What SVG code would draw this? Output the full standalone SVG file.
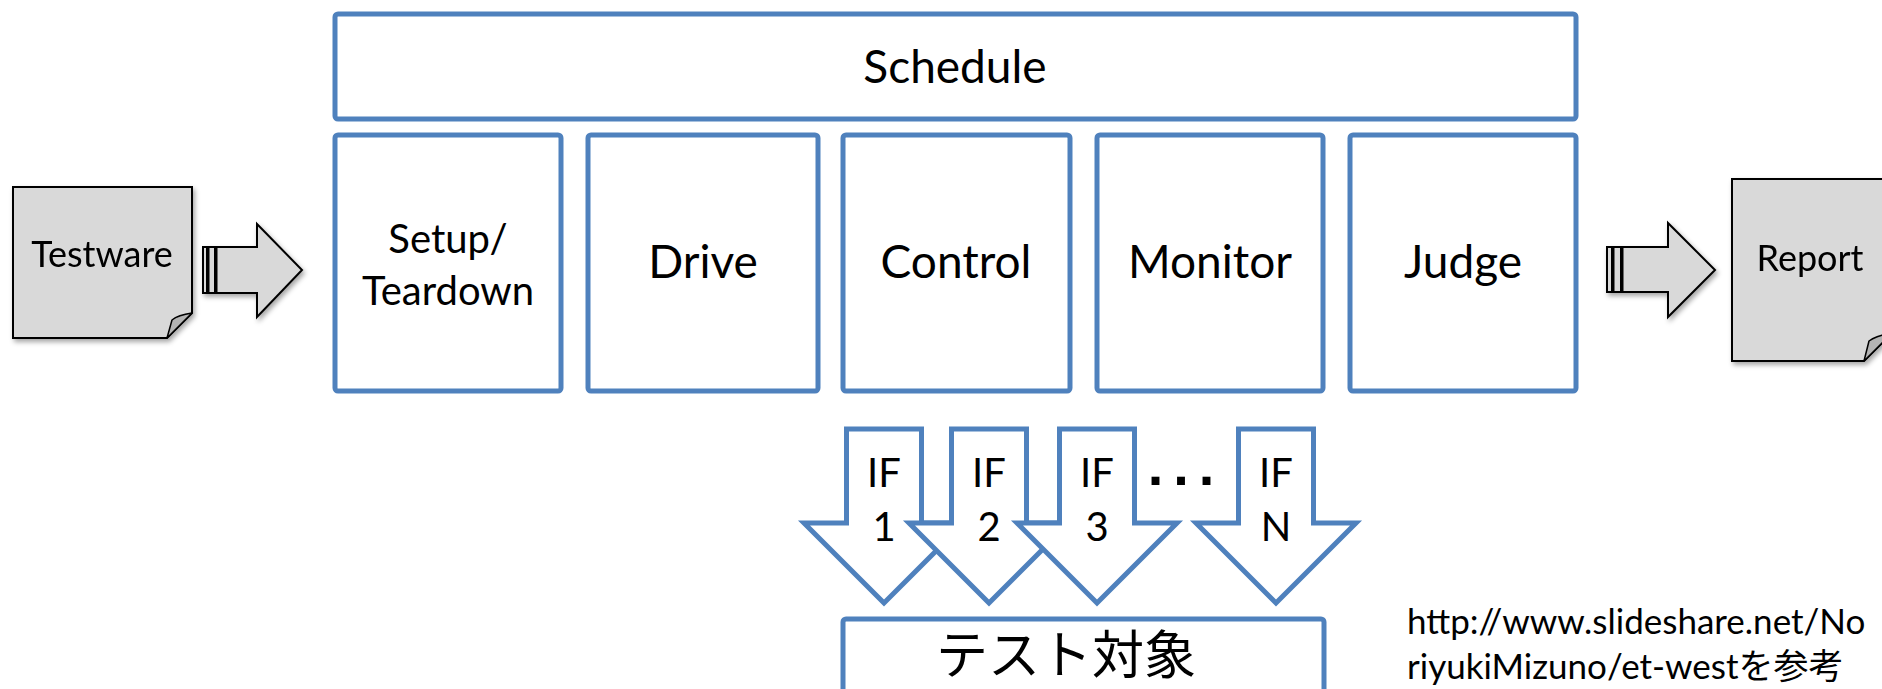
<svg xmlns="http://www.w3.org/2000/svg" width="1882" height="689" viewBox="0 0 1882 689">
<defs>
<filter id="sh" x="-20%" y="-20%" width="150%" height="150%">
<feDropShadow dx="2" dy="3" stdDeviation="2.5" flood-color="#000" flood-opacity="0.35"/>
</filter>
</defs>
<style>
.box{fill:#fff;stroke:#4F81BD;stroke-width:5}
.ifa{fill:#fff;stroke:#4F81BD;stroke-width:5;stroke-linejoin:miter}
.doc{fill:#D9D9D9;stroke:#000;stroke-width:2}
.flap{fill:#B3B3B3;stroke:#000;stroke-width:1.5;stroke-linejoin:round}
.barr{fill:#D9D9D9;stroke:#000;stroke-width:2}
text{font-family:Lato,"Noto Sans CJK JP",sans-serif;fill:#000}
.lbl{font-size:46px;text-anchor:middle}
.sm{font-size:36px;text-anchor:middle}
.ift{font-size:40px;text-anchor:middle}
</style>

<g id="testware" filter="url(#sh)">
<path class="doc" d="M13,187 H192 V313 L167,338 H13 Z"/>
<path class="flap" d="M167,338 L192,313 Q178,315 172,320 Z"/>
<text class="sm" x="102" y="267">Testware</text>
</g>

<g id="report" filter="url(#sh)">
<path class="doc" d="M1732,179 H1892 V333 L1864,361 H1732 Z"/>
<path class="flap" d="M1864,361 L1892,333 Q1876,336 1869,341 Z"/>
<text class="sm" x="1810" y="271">Report</text>
</g>

<g id="connectors">
<g filter="url(#sh)">
<rect class="barr" x="203" y="247" width="4" height="46"/>
<rect class="barr" x="208.5" y="247" width="6.5" height="46"/>
<path class="barr" d="M216.5,247 H257 V224 L302,270 L257,317 V293 H216.5 Z"/>
</g>
<g filter="url(#sh)">
<rect class="barr" x="1607" y="247" width="5" height="45"/>
<rect class="barr" x="1613.5" y="247" width="7.5" height="45"/>
<path class="barr" d="M1622.5,247 H1668 V223 L1715,270 L1668,317 V292 H1622.5 Z"/>
</g>
</g>

<g id="schedule">
<rect class="box" x="335" y="14" width="1241" height="105" rx="3"/>
<text class="lbl" x="955" y="83">Schedule</text>
</g>

<g id="setup">
<rect class="box" x="335" y="135" width="226" height="256" rx="3"/>
<text class="lbl" x="448" y="253" style="font-size:40px">Setup/</text>
<text class="lbl" x="448" y="305" style="font-size:40px">Teardown</text>
</g>
<g id="drive">
<rect class="box" x="588" y="135" width="230" height="256" rx="3"/>
<text class="lbl" x="703" y="278">Drive</text>
</g>
<g id="control">
<rect class="box" x="843" y="135" width="227" height="256" rx="3"/>
<text class="lbl" x="956" y="278">Control</text>
</g>
<g id="monitor">
<rect class="box" x="1097" y="135" width="226" height="256" rx="3"/>
<text class="lbl" x="1210" y="278">Monitor</text>
</g>
<g id="judge">
<rect class="box" x="1350" y="135" width="226" height="256" rx="3"/>
<text class="lbl" x="1463" y="278">Judge</text>
</g>

<g id="if1">
<path class="ifa" d="M846.5,429 H921.5 V523 H964 L884,603 L804,523 H846.5 Z"/>
<text class="ift" x="884" y="487">IF</text>
<text class="ift" x="884" y="541">1</text>
</g>
<g id="if2">
<path class="ifa" d="M951.5,429 H1026.5 V523 H1069 L989,603 L909,523 H951.5 Z"/>
<text class="ift" x="989" y="487">IF</text>
<text class="ift" x="989" y="541">2</text>
</g>
<g id="if3">
<path class="ifa" d="M1059.5,429 H1134.5 V523 H1177 L1097,603 L1017,523 H1059.5 Z"/>
<text class="ift" x="1097" y="487">IF</text>
<text class="ift" x="1097" y="541">3</text>
</g>
<g id="ifn">
<path class="ifa" d="M1238.5,429 H1313.5 V523 H1356 L1276,603 L1196,523 H1238.5 Z"/>
<text class="ift" x="1276" y="487">IF</text>
<text class="ift" x="1276" y="541">N</text>
</g>
<g id="dots">
<text x="1186" y="485" style="font-family:'Liberation Sans',sans-serif;font-size:56px;font-weight:bold;text-anchor:middle;letter-spacing:10px">...</text>
</g>

<g id="target">
<rect class="box" x="843" y="619" width="481" height="90" rx="3"/>
<text class="lbl" x="1066" y="674" style="font-size:52px">テスト対象</text>
</g>

<g id="note">
<text x="1407" y="634" style="font-size:35px">http://www.slideshare.net/No</text>
<text x="1407" y="679" style="font-size:35px">riyukiMizuno/et-westを参考</text>
</g>
</svg>
